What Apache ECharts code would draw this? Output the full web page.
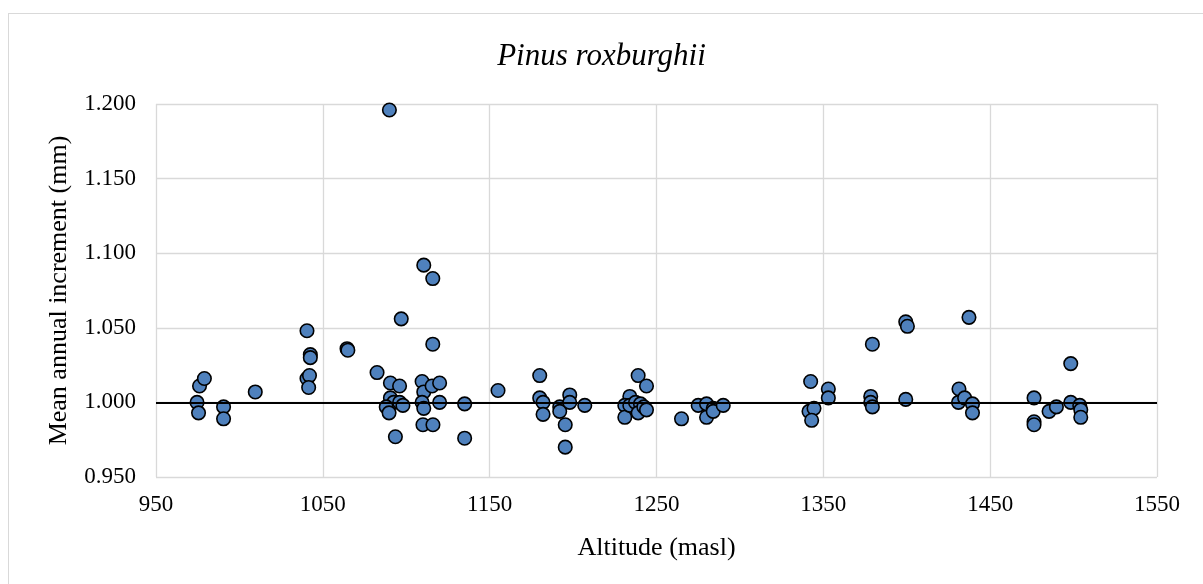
<!DOCTYPE html>
<html>
<head>
<meta charset="utf-8">
<title>Pinus roxburghii</title>
<script src="https://cdn.jsdelivr.net/npm/echarts@6/dist/echarts.min.js"></script>
<style>
  html, body { margin: 0; padding: 0; background: #fff; overflow: hidden; }
  #frame {
    position: absolute; left: 8px; top: 13px;
    width: 1203px; height: 584px;
    border: 1px solid #d9d9d9;
  }
  #chart { position: absolute; left: 0; top: 0; width: 1203px; height: 584px; }
</style>
</head>
<body>
<div id="frame"></div>
<div id="chart"></div>
<script>
// altitude (masl) of each sampled tree
const altitude = [
  1089.9, 1110.5, 1115.9, 974.6, 975.5, 976.1, 979, 990.5, 990.5, 1009.5,
  1040.5, 1042.5, 1042.5, 1040.5, 1042, 1041.5, 1064.5, 1065, 1082.5, 1090.5,
  1096, 1090.5, 1092.5, 1088, 1089.7, 1096, 1098, 1097, 1093.5, 1115.9,
  1109.5, 1110.5, 1115.5, 1120, 1109.5, 1110.5, 1120, 1110, 1116, 1135,
  1135, 1155, 1180, 1180, 1182, 1182, 1192, 1192, 1198, 1198,
  1195.3, 1195.3, 1207, 1239, 1244, 1234, 1231, 1231, 1234, 1237.4,
  1240.4, 1239, 1242.4, 1244, 1265, 1275, 1280, 1280, 1284, 1284,
  1290, 1342.4, 1341.4, 1344.4, 1343, 1353, 1353, 1379.4, 1378.4, 1378.4,
  1379.4, 1399.4, 1400.4, 1399.4, 1437.3, 1431.3, 1431, 1434.7, 1439.4, 1439.4,
  1476.3, 1476.3, 1476.3, 1485.3, 1489.7, 1498.3, 1498.3, 1503.7, 1504.3, 1504.3
]

// mean annual increment (mm), same order as altitude
const increment = [
  1.196, 1.092, 1.083, 1.000, 0.993, 1.011, 1.016, 0.997, 0.989, 1.007,
  1.048, 1.032, 1.030, 1.016, 1.018, 1.010, 1.036, 1.035, 1.020, 1.013,
  1.011, 1.003, 1.000, 0.997, 0.993, 1.000, 0.998, 1.056, 0.977, 1.039,
  1.014, 1.007, 1.011, 1.013, 1.000, 0.996, 1.000, 0.985, 0.985, 0.999,
  0.976, 1.008, 1.018, 1.003, 1.000, 0.992, 0.997, 0.994, 1.005, 1.000,
  0.985, 0.970, 0.998, 1.018, 1.011, 1.004, 0.998, 0.990, 0.998, 1.000,
  0.999, 0.993, 0.997, 0.995, 0.989, 0.998, 0.999, 0.990, 0.996, 0.994,
  0.998, 1.014, 0.994, 0.996, 0.988, 1.009, 1.003, 1.039, 1.004, 1.000,
  0.997, 1.054, 1.051, 1.002, 1.057, 1.009, 1.000, 1.003, 0.999, 0.993,
  1.003, 0.987, 0.985, 0.994, 0.997, 1.026, 1.000, 0.998, 0.995, 0.990
]

// reference line value
const baseline = 1.0

const font = 'Liberation Serif, Times New Roman, serif'

const points = altitude.map((a, i) => [a, increment[i]])

const chart = echarts.init(document.getElementById('chart'), null, { renderer: 'canvas' })

chart.setOption({
  backgroundColor: 'transparent',
  animation: false,
  title: {
    text: 'Pinus roxburghii',
    left: 'center',
    top: 36,
    textStyle: {
      fontFamily: font,
      fontStyle: 'italic',
      fontWeight: 'normal',
      fontSize: 31,
      color: '#000'
    }
  },
  grid: {
    left: 156,
    right: 46,
    top: 104,
    bottom: 107
  },
  xAxis: {
    type: 'value',
    min: 950,
    max: 1550,
    interval: 100,
    name: 'Altitude (masl)',
    nameLocation: 'middle',
    nameGap: 58,
    nameTextStyle: { fontFamily: font, fontSize: 26, color: '#000' },
    axisLine: { show: false },
    axisTick: { show: false },
    axisLabel: {
      fontFamily: font,
      fontSize: 23,
      color: '#000',
      margin: 16,
      formatter: v => String(Math.round(v))
    },
    splitLine: { show: true, lineStyle: { color: '#d9d9d9', width: 1.3 } }
  },
  yAxis: {
    type: 'value',
    min: 0.95,
    max: 1.2,
    interval: 0.05,
    name: 'Mean annual increment (mm)',
    nameLocation: 'middle',
    nameGap: 84,
    nameTextStyle: { fontFamily: font, fontSize: 26, color: '#000' },
    axisLine: { show: false },
    axisTick: { show: false },
    axisLabel: {
      fontFamily: font,
      fontSize: 23,
      color: '#000',
      margin: 20,
      formatter: v => v.toFixed(3)
    },
    splitLine: { show: true, lineStyle: { color: '#d9d9d9', width: 1.3 } }
  },
  series: [
    {
      // only carries the horizontal line at 1.000, under the dots
      type: 'scatter',
      data: [],
      z: 1,
      markLine: {
        silent: true,
        symbol: 'none',
        label: { show: false },
        lineStyle: { color: '#000', width: 2.2, type: 'solid' },
        data: [{ yAxis: baseline }]
      }
    },
    {
      type: 'scatter',
      data: points,
      z: 3,
      symbol: 'circle',
      symbolSize: 13.5,
      itemStyle: {
        color: '#4f81bd',
        borderColor: '#000',
        borderWidth: 1.6,
        opacity: 1
      }
    }
  ]
})
</script>
</body>
</html>
